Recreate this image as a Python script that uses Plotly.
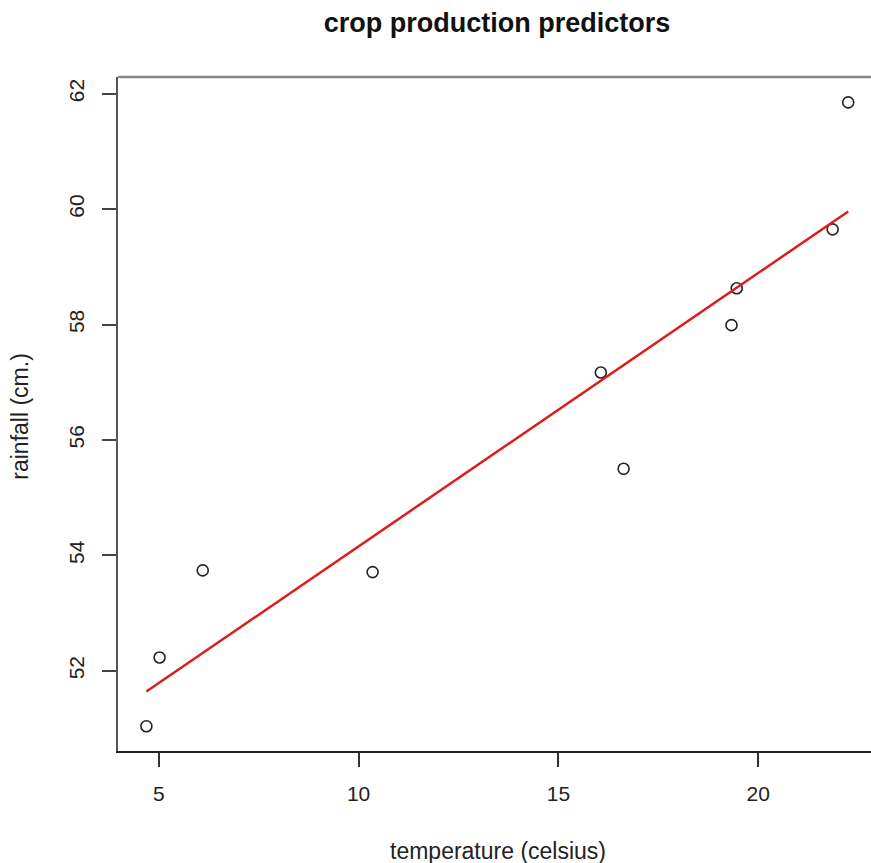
import plotly.graph_objects as go

# ---- data ----
temperature = [4.69, 5.02, 6.10, 10.35, 16.06, 16.63, 19.33, 19.46, 21.86, 22.25]
rainfall = [51.04, 52.23, 53.74, 53.71, 57.17, 55.50, 57.99, 58.63, 59.65, 61.85]

fit_x = [4.69, 22.25]
fit_y = [51.64, 59.96]

x_ticks = [5, 10, 15, 20]
y_ticks = [52, 54, 56, 58, 60, 62]

title_text = "crop production predictors"
x_title = "temperature (celsius)"
y_title = "rainfall (cm.)"

FONT = "Liberation Sans, Arial, Helvetica, sans-serif"

W, H = 871, 863
ML, MR, MT, MB = 118, 0, 77, 112
PW = W - ML - MR
PH = H - MT - MB

fig = go.Figure()
fig.add_trace(go.Scatter(
    x=temperature, y=rainfall, mode="markers",
    marker=dict(symbol="circle-open", size=11, color="#222222",
                line=dict(width=1.6, color="#222222")),
    showlegend=False, hoverinfo="x+y"))
fig.add_trace(go.Scatter(
    x=fit_x, y=fit_y, mode="lines",
    line=dict(color="#dd1c1c", width=2.5),
    showlegend=False))

def px_x(p):
    return (p - ML) / PW

def px_y(p):
    return (H - MB - p) / PH

fig.update_layout(
    width=W, height=H,
    margin=dict(l=ML, r=MR, t=MT, b=MB, pad=0),
    paper_bgcolor="white", plot_bgcolor="white",
    font=dict(family=FONT, color="#222222"),
    title=dict(text="<b>" + title_text + "</b>", xref="container", yref="container",
               x=497 / W, xanchor="center", y=1 - 23 / H, yanchor="middle",
               font=dict(size=27, family=FONT, color="#111111")),
    xaxis=dict(range=[3.98, 22.82], tickvals=x_ticks, ticktext=[str(v) for v in x_ticks],
               showgrid=False, zeroline=False, showline=True, linecolor="#222222", linewidth=2,
               ticks="outside", ticklen=14, tickwidth=1.5, tickcolor="#333333",
               tickfont=dict(size=21, color="#222222"), ticklabelstandoff=9),
    yaxis=dict(range=[50.61, 62.29], tickvals=y_ticks, ticktext=[str(v) for v in y_ticks],
               showgrid=False, zeroline=False, showline=True, linecolor="#555555", linewidth=2,
               ticks="outside", ticklen=14, tickwidth=1.5, tickcolor="#444444",
               tickangle=-90, tickfont=dict(size=21, color="#222222"), ticklabelstandoff=10),
    shapes=[dict(type="line", xref="paper", yref="paper", x0=0, x1=1, y0=1, y1=1,
                 line=dict(color="#8a8a8a", width=2.5))],
    annotations=[
        dict(text=x_title, xref="paper", yref="paper", x=px_x(498), y=px_y(851),
             xanchor="center", yanchor="middle", showarrow=False,
             font=dict(size=23, family=FONT, color="#222222")),
        dict(text=y_title, xref="paper", yref="paper", x=px_x(20), y=px_y(416.7),
             xanchor="center", yanchor="middle", showarrow=False, textangle=-90,
             font=dict(size=23, family=FONT, color="#222222")),
    ],
)

fig.write_html("out.html")
